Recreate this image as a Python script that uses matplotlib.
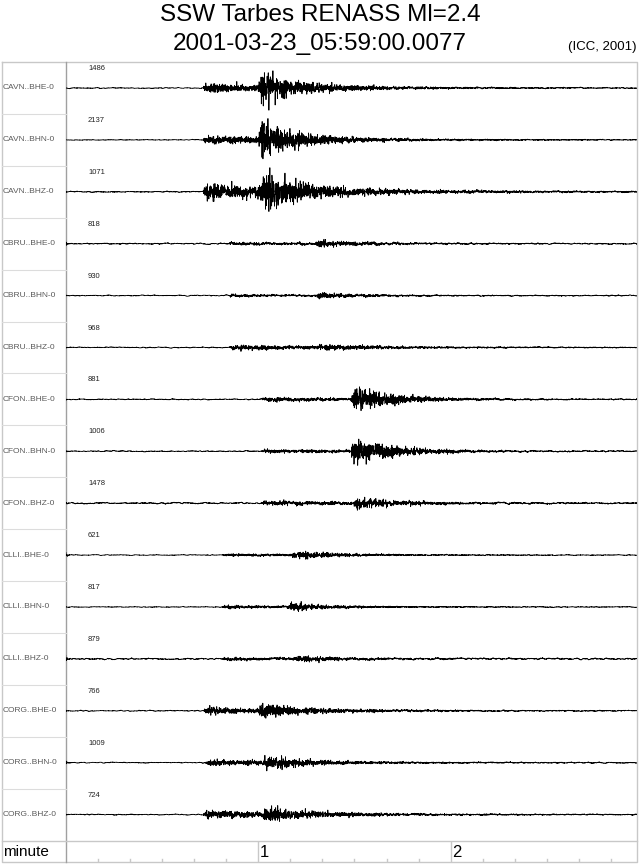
import matplotlib
matplotlib.use("Agg")
import matplotlib.pyplot as plt
import numpy as np

W, H = 640, 866
plt.rcParams.update({"font.family": ["Liberation Sans", "DejaVu Sans"]})

# station / channel labels, top to bottom
stations = ["CAVN..BHE-0", "CAVN..BHN-0", "CAVN..BHZ-0",
            "CBRU..BHE-0", "CBRU..BHN-0", "CBRU..BHZ-0",
            "CFON..BHE-0", "CFON..BHN-0", "CFON..BHZ-0",
            "CLLI..BHE-0", "CLLI..BHN-0", "CLLI..BHZ-0",
            "CORG..BHE-0", "CORG..BHN-0", "CORG..BHZ-0"]
peak_counts = [1486, 2137, 1071, 818, 930, 968, 881, 1006, 1478,
               621, 817, 879, 766, 1009, 724]

# envelope parameters (seconds, amplitude in pixels)
p_time = [42.8, 42.8, 42.8, 50.6, 50.6, 51.0, 61.0, 61.0, 61.0,
          48.8, 48.8, 48.8, 42.8, 43.5, 42.8]
p_amp = [5, 4, 8, 1.5, 1.5, 2.5, 2, 2, 2, 1.5, 1.5, 1.5, 3.5, 3, 4]
s_time = [60.0, 60.0, 60.5, 77.8, 77.8, 78.5, 88.8, 88.8, 89.5,
          70.0, 69.0, 71.0, 60.0, 61.0, 61.0]
s_amp = [17, 17, 15, 4, 3.5, 2.5, 14, 15, 5, 4, 3.5, 3, 7, 6, 6]
noise_amp = [1.0, 0.8, 1.2, 1.5, 1.2, 1.0, 1.2, 1.2, 1.6,
             0.8, 0.8, 1.6, 1.0, 1.0, 1.0]
start_spike = [0, 0, 0, 4, 1, 1, 1, 1, 1, 8, 1, 6, 2, 4, 1]

T_END = 178.0   # seconds shown
FS = 20.0       # samples per second
ROW_PX = 51.9

t = np.arange(0, T_END, 1 / FS)
rng = np.random.default_rng(7)


def carrier(width):
    # smoothed noise used only as the wiggle texture under the read envelope
    x = rng.standard_normal(len(t) + width)
    k = np.hanning(width)
    x = np.convolve(x, k / k.sum(), mode="same")[:len(t)]
    return x / np.abs(x).max()


fig = plt.figure(figsize=(W / 100, H / 100), dpi=100)

# frame / label area in pixel coordinates
bg = fig.add_axes([0, 0, 1, 1])
bg.set_xlim(0, W)
bg.set_ylim(H, 0)
bg.axis("off")

top, bottom_tr, bottom = 62, 840.5, 862
left, sep, right = 2, 65.5, 637
grid_c = "#c8c8c8"
bg.plot([left, right, right, left, left], [top, top, bottom, bottom, top],
        color=grid_c, lw=1)
bg.plot([sep, sep], [top, bottom], color="#a0a0a0", lw=1)
bg.plot([left, right], [bottom_tr, bottom_tr], color=grid_c, lw=1)
for i in range(1, 15):
    yy = top + i * ROW_PX
    bg.plot([left, sep], [yy, yy], color="#dcdcdc", lw=0.8)

for i, name in enumerate(stations):
    yc = top + (i + 0.5) * ROW_PX
    bg.text(3, yc, name, fontsize=6.0, color="#5a5a5a", va="center", ha="left")
    bg.text(88, top + i * ROW_PX + 6.5, str(peak_counts[i]), fontsize=5.5,
            color="#222222", va="center", ha="left")

bg.text(320, 15, "SSW Tarbes RENASS Ml=2.4", fontsize=17.5, ha="center", va="center")
bg.text(320, 44, "2001-03-23_05:59:00.0077", fontsize=17.5, ha="center", va="center")
bg.text(637, 47, "(ICC, 2001)", fontsize=9.5, ha="right", va="center")
bg.text(3, 852, "minute", fontsize=11, ha="left", va="center")

# trace panel
ax = fig.add_axes([sep / W, 1 - bottom_tr / H, (right - sep) / W, (bottom_tr - top) / H])
ax.set_xlim(0, T_END)
ax.set_ylim(15, 0)
ax.axis("off")

for i in range(15):
    env = np.full_like(t, noise_amp[i])
    dp = t - p_time[i]
    env += np.where(dp > 0, p_amp[i] * np.clip(dp / 0.8, 0, 1) * np.exp(-np.clip(dp, 0, None) / 40), 0)
    ds = t - s_time[i]
    env += np.where(ds > 0, s_amp[i] * np.clip(ds / 1.2, 0, 1) * np.exp(-np.clip(ds, 0, None) / 12), 0)
    env += start_spike[i] * np.exp(-t / 0.3)
    low = carrier(30)
    high = carrier(3)
    frac = np.clip((env - noise_amp[i]) / (env + 1e-9), 0, 1)
    sig = env * ((1 - frac) * (0.6 * low + 0.4 * high) + frac * high * 1.6)
    ax.plot(t, i + 0.5 - sig / ROW_PX, color="black", lw=0.6)

# time row
tx = fig.add_axes([sep / W, 1 - bottom / H, (right - sep) / W, (bottom - bottom_tr) / H])
tx.set_xlim(0, T_END)
tx.set_ylim(0, 1)
tx.axis("off")
minor = np.arange(10, T_END, 10)
for m in minor:
    if m % 60 == 0:
        tx.plot([m, m], [0, 1], color=grid_c, lw=1)
        tx.text(m + 0.5, 0.45, str(int(m // 60)), fontsize=12, ha="left", va="center")
    else:
        tx.plot([m, m], [0, 0.15], color=grid_c, lw=1)

fig.savefig("out.png", dpi=100, facecolor="white")
